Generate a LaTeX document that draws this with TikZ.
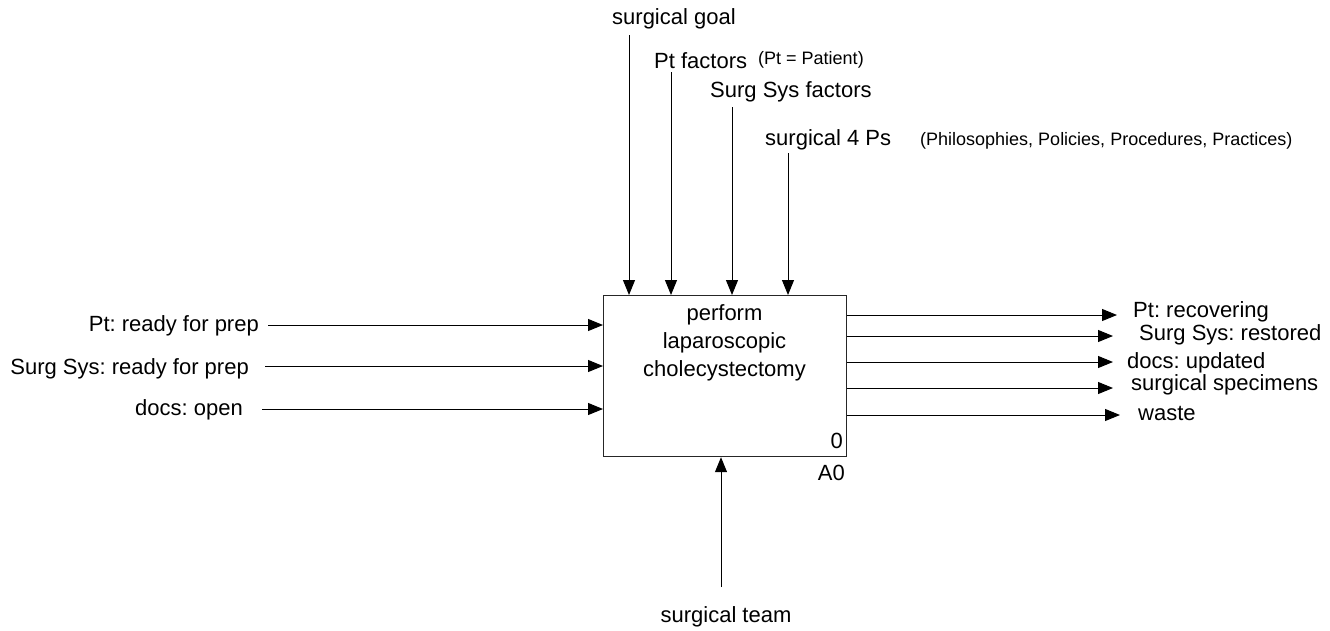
\documentclass[tikz,border=0pt]{standalone}
\usepackage{fontspec}
\setmainfont{Liberation Sans}
\usetikzlibrary{arrows.meta}
\frenchspacing

\begin{document}
\begin{tikzpicture}[x=1pt,y=-1pt,
        flecha/.style={-{Triangle[length=15pt,width=12pt]},line width=1pt},
        etiq/.style={font=\fontsize{22}{28}\selectfont,inner sep=0pt},
        nota/.style={font=\fontsize{18}{22}\selectfont,inner sep=0pt}]
        %colores
        \colorlet{linea}{black!85}

        \useasboundingbox (0,0) rectangle (1330,630);

        % Caja A0
        \node[draw=linea,line width=1.2pt,inner sep=0pt,minimum width=243pt,minimum height=161pt,anchor=north west] (caja) at (603,295) {};
        \node[etiq,align=center] (titulo) at (724.5,343) {perform\\laparoscopic\\cholecystectomy};
        \node[etiq,anchor=south east] (num) at (843,449) {0};
        \node[etiq,anchor=north east] (nodo) at (845,465) {A0};

        % Controles, arriba
        \foreach \n/\x/\y in {a/629/35, b/671/72, c/732/107, d/788/153}
        {
            \coordinate (ctl\n) at (\x,\y);
            \draw[flecha] (ctl\n) -- (ctl\n |- caja.north);
        }
        \node[etiq,anchor=base west] (lgoal) at (612,24) {surgical goal};
        \node[etiq,anchor=base west] (lpt) at (654,68) {Pt factors};
        \node[nota,anchor=base west] (npt) at (758,64) {(Pt = Patient)};
        \node[etiq,anchor=base west] (lsys) at (710,97) {Surg Sys factors};
        \node[etiq,anchor=base west] (lps) at (765,145) {surgical 4 Ps};
        \node[nota,anchor=base west] (nps) at (920,145) {(Philosophies, Policies, Procedures, Practices)};

        % Entradas, izquierda
        \foreach \n/\y/\xi/\xt/\yt/\texto in {a/325/268/259/331/{Pt: ready for prep}, b/366/265/249/374/{Surg Sys: ready for prep}, c/409/262/243/415/{docs: open}}
        {
            \coordinate (ent\n) at (\xi,\y);
            \draw[flecha] (ent\n) -- (ent\n -| caja.west);
            \node[etiq,anchor=base east] (lent\n) at (\xt,\yt) {\texto};
        }

        % Salidas, derecha
        \foreach \n/\y/\xf/\xt/\yt/\texto in {a/315/1117/1133/317/{Pt: recovering}, b/336/1113/1139/340/{Surg Sys: restored}, c/362/1113/1127/368/{docs: updated}, d/388/1113/1131/390/{surgical specimens}, e/415/1120/1138/420/{waste}}
        {
            \coordinate (sal\n) at (\xf,\y);
            \draw[flecha] (caja.east |- sal\n) -- (sal\n);
            \node[etiq,anchor=base west] (lsal\n) at (\xt,\yt) {\texto};
        }

        % Mecanismo, abajo
        \coordinate (mec) at (721,587);
        \draw[flecha] (mec) -- (mec |- caja.south);
        \node[etiq,anchor=base] (lmec) at (726,622) {surgical team};
    \end{tikzpicture}
\end{document}
